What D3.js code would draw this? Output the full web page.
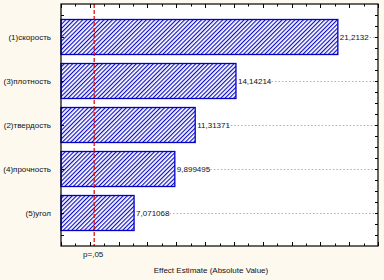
<!DOCTYPE html>
<html>
<head>
<meta charset="utf-8">
<script src="https://cdn.jsdelivr.net/npm/d3@7"></script>
<style>
  body { margin: 0; background: #fdf9ee; }
  svg { display: block; font-family: "Liberation Sans", Arial, sans-serif; }
</style>
</head>
<body>
<div id="chart"></div>
<script>
// pareto chart data
var categories = ["(1)скорость", "(3)плотность", "(2)твердость", "(4)прочность", "(5)угол"];
var values = [21.2132, 14.14214, 11.31371, 9.899495, 7.071068];
var valueLabels = ["21,2132", "14,14214", "11,31371", "9,899495", "7,071068"];
var pValue = 4.303;
var pLabel = "p=,05";
var xTitle = "Effect Estimate (Absolute Value)";

var width = 384, height = 280;
var margin = {top: 4, right: 6, bottom: 34, left: 61};

var svg = d3.select("#chart")
    .append("svg")
    .attr("width", width)
    .attr("height", height);

// hatch pattern for bars
var defs = svg.append("defs");
var pat = defs.append("pattern")
    .attr("id", "hatch")
    .attr("patternUnits", "userSpaceOnUse")
    .attr("width", 3)
    .attr("height", 3)
    .attr("patternTransform", "rotate(45)");
pat.append("rect").attr("width", 3).attr("height", 3).attr("fill", "#fff");
pat.append("line")
    .attr("x1", 0.6).attr("y1", 0).attr("x2", 0.6).attr("y2", 3)
    .attr("stroke", "#0000c8").attr("stroke-width", 1.1);

var x = d3.scaleLinear().domain([2, 24]).range([margin.left, width - margin.right]);
var y = d3.scaleLinear().domain([0.25, 5.75]).range([margin.top, height - margin.bottom]);

var x0 = x.range()[0], x1 = x.range()[1];
var y0 = y.range()[0], y1 = y.range()[1];

// plot background
svg.append("rect")
    .attr("x", x0).attr("y", y0)
    .attr("width", x1 - x0).attr("height", y1 - y0)
    .attr("fill", "#fff");

// dotted guide lines from bar ends
svg.append("g").selectAll("line")
    .data(values)
  .enter().append("line")
    .attr("x1", function(d, i) { return x(d) + 2 + valueLabels[i].length * 3.75; })
    .attr("x2", x1)
    .attr("y1", function(d, i) { return Math.round(y(i + 1)) + 0.5; })
    .attr("y2", function(d, i) { return Math.round(y(i + 1)) + 0.5; })
    .attr("stroke", "#b0b0b0")
    .attr("stroke-dasharray", "1.5,2");

// bars
var barH = 35;
svg.append("g").selectAll("rect")
    .data(values)
  .enter().append("rect")
    .attr("x", x0)
    .attr("y", function(d, i) { return y(i + 1) - barH / 2; })
    .attr("width", function(d) { return x(d) - x0; })
    .attr("height", barH)
    .attr("fill", "url(#hatch)")
    .attr("stroke", "#0000c8")
    .attr("stroke-width", 1.3);

// value labels
svg.append("g").selectAll("text")
    .data(values)
  .enter().append("text")
    .attr("x", function(d) { return x(d) + 2; })
    .attr("y", function(d, i) { return y(i + 1); })
    .attr("dy", "0.35em")
    .attr("font-size", "8px")
    .attr("fill", "#111")
    .text(function(d, i) { return valueLabels[i]; });

// p line
svg.append("line")
    .attr("x1", x(pValue)).attr("x2", x(pValue))
    .attr("y1", y0).attr("y2", y1)
    .attr("stroke", "#e00000")
    .attr("stroke-width", 1.2)
    .attr("stroke-dasharray", "4,2");

// frame
svg.append("rect")
    .attr("x", x0).attr("y", y0)
    .attr("width", x1 - x0).attr("height", y1 - y0)
    .attr("fill", "none")
    .attr("stroke", "#000")
    .attr("stroke-width", 1.2);

// ticks
var xTicks = d3.range(2, 25, 1);
var ax = svg.append("g").attr("stroke", "#000").attr("stroke-width", 1);
ax.selectAll(".bt").data(xTicks).enter().append("line")
    .attr("x1", function(d) { return Math.round(x(d)) + 0.5; })
    .attr("x2", function(d) { return Math.round(x(d)) + 0.5; })
    .attr("y1", y1).attr("y2", function(d) { return y1 - (d % 2 === 0 ? 4 : 2.5); });
ax.selectAll(".tt").data(xTicks).enter().append("line")
    .attr("x1", function(d) { return Math.round(x(d)) + 0.5; })
    .attr("x2", function(d) { return Math.round(x(d)) + 0.5; })
    .attr("y1", y0).attr("y2", function(d) { return y0 + (d % 2 === 0 ? 4 : 2.5); });

var leftTicks = [0.5, 1, 2, 3, 4, 5, 5.5];
ax.selectAll(".lt").data(leftTicks).enter().append("line")
    .attr("x1", x0).attr("x2", x0 + 3)
    .attr("y1", function(d) { return Math.round(y(d)) + 0.5; })
    .attr("y2", function(d) { return Math.round(y(d)) + 0.5; });

var rightTicks = d3.range(0.5, 5.75, 0.25);
ax.selectAll(".rt").data(rightTicks).enter().append("line")
    .attr("x1", x1).attr("x2", x1 - 3)
    .attr("y1", function(d) { return Math.round(y(d)) + 0.5; })
    .attr("y2", function(d) { return Math.round(y(d)) + 0.5; });

// category labels
svg.append("g").selectAll("text")
    .data(categories)
  .enter().append("text")
    .attr("x", 51)
    .attr("y", function(d, i) { return y(i + 1); })
    .attr("dy", "0.35em")
    .attr("text-anchor", "end")
    .attr("font-size", "8px")
    .attr("fill", "#111")
    .text(function(d) { return d; });

// p label
svg.append("text")
    .attr("x", x(pValue) - 1)
    .attr("y", y1 + 11)
    .attr("text-anchor", "middle")
    .attr("font-size", "8px")
    .attr("fill", "#111")
    .text(pLabel);

// axis title
svg.append("text")
    .attr("x", 211)
    .attr("y", 273)
    .attr("text-anchor", "middle")
    .attr("font-size", "8px")
    .attr("fill", "#111")
    .text(xTitle);
</script>
</body>
</html>
